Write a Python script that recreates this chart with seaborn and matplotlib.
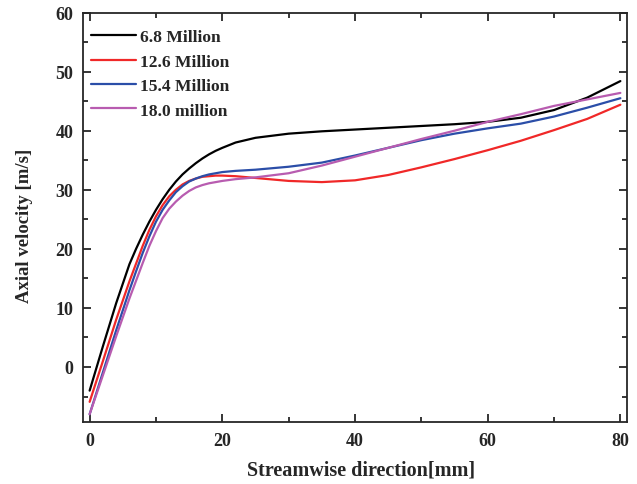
import matplotlib
matplotlib.use("Agg")
import matplotlib.pyplot as plt
from matplotlib.ticker import MultipleLocator
import seaborn as sns
import pandas as pd

x_mm = [0, 2, 4, 6, 7, 8, 9, 10, 11, 12, 13, 14, 15, 16, 17, 18, 19, 20,
        22, 25, 30, 35, 40, 45, 50, 55, 60, 65, 70, 75, 80]

v_6_8 = [-4.0, 3.5, 10.8, 17.4, 20.0, 22.4, 24.6, 26.6, 28.4, 30.0, 31.4, 32.6, 33.6, 34.5, 35.3, 36.0, 36.6, 37.1,
         38.0, 38.8, 39.5, 39.9, 40.2, 40.5, 40.8, 41.1, 41.5, 42.2, 43.5, 45.6, 48.4]
v_12_6 = [-5.9, 1.0, 8.0, 14.5, 17.5, 20.5, 23.2, 25.5, 27.4, 28.9, 30.0, 30.9, 31.5, 31.9, 32.2, 32.3, 32.4, 32.4,
          32.3, 32.0, 31.5, 31.3, 31.6, 32.5, 33.8, 35.2, 36.7, 38.3, 40.1, 42.0, 44.4]
v_15_4 = [-8.0, -0.9, 6.2, 13.0, 16.2, 19.3, 22.1, 24.6, 26.6, 28.2, 29.6, 30.6, 31.4, 31.9, 32.3, 32.6, 32.8, 33.0,
          33.2, 33.4, 33.9, 34.6, 35.8, 37.1, 38.4, 39.5, 40.4, 41.2, 42.4, 43.9, 45.5]
v_18_0 = [-8.0, -1.4, 5.2, 11.6, 14.6, 17.6, 20.5, 23.0, 25.2, 26.8, 28.0, 29.0, 29.8, 30.4, 30.8, 31.1, 31.3, 31.5,
          31.8, 32.1, 32.8, 34.1, 35.6, 37.1, 38.6, 40.0, 41.5, 42.8, 44.2, 45.3, 46.4]

labels = ["6.8 Million", "12.6 Million", "15.4 Million", "18.0 million"]
series = [v_6_8, v_12_6, v_15_4, v_18_0]
colors = ["#000000", "#f02828", "#2b4ea8", "#b85cb0"]

rows = []
for lab, vals in zip(labels, series):
    for xv, yv in zip(x_mm, vals):
        rows.append({"x": xv, "v": yv, "case": lab})
df = pd.DataFrame(rows)

sns.set_style("ticks")
plt.rcParams["font.family"] = ["Liberation Serif", "DejaVu Serif"]
plt.rcParams["font.weight"] = "bold"

fig = plt.figure(figsize=(6.37, 4.85), dpi=100)
ax = fig.add_axes([0.1303, 0.128, 0.854, 0.844])

sns.lineplot(data=df, x="x", y="v", hue="case", hue_order=labels,
             palette=colors, linewidth=1.6, ax=ax, legend=True)

ax.set_xlim(-1, 81)
ax.set_ylim(-9.3, 60)
ax.xaxis.set_major_locator(MultipleLocator(20))
ax.xaxis.set_minor_locator(MultipleLocator(10))
ax.yaxis.set_major_locator(MultipleLocator(10))
ax.yaxis.set_minor_locator(MultipleLocator(5))
ax.set_yticks([0, 10, 20, 30, 40, 50, 60])
ax.tick_params(which="both", direction="in", top=True, right=True, width=1.3)
ax.tick_params(which="major", length=6, labelsize=13, pad=7)
ax.tick_params(which="minor", length=3.5)
for lab in ax.get_xticklabels() + ax.get_yticklabels():
    lab.set_fontweight("bold")
for s in ax.spines.values():
    s.set_linewidth(1.3)
    s.set_visible(True)

ax.set_xlabel("Streamwise direction[mm]", fontsize=14.5, fontweight="bold")
ax.set_ylabel("Axial velocity [m/s]", fontsize=13.5, fontweight="bold")
ax.xaxis.set_label_coords(0.512, -0.093)
ax.yaxis.set_label_coords(-0.092, 0.481)

leg = ax.legend(loc="upper left", bbox_to_anchor=(-0.0074, 0.990), frameon=False,
                prop={"weight": "bold", "size": 12.6}, handlelength=2.55,
                handletextpad=0.25, labelspacing=0.47, borderaxespad=0.3)
for h in leg.get_lines():
    h.set_linewidth(1.6)

fig.savefig("out.png", dpi=100)
